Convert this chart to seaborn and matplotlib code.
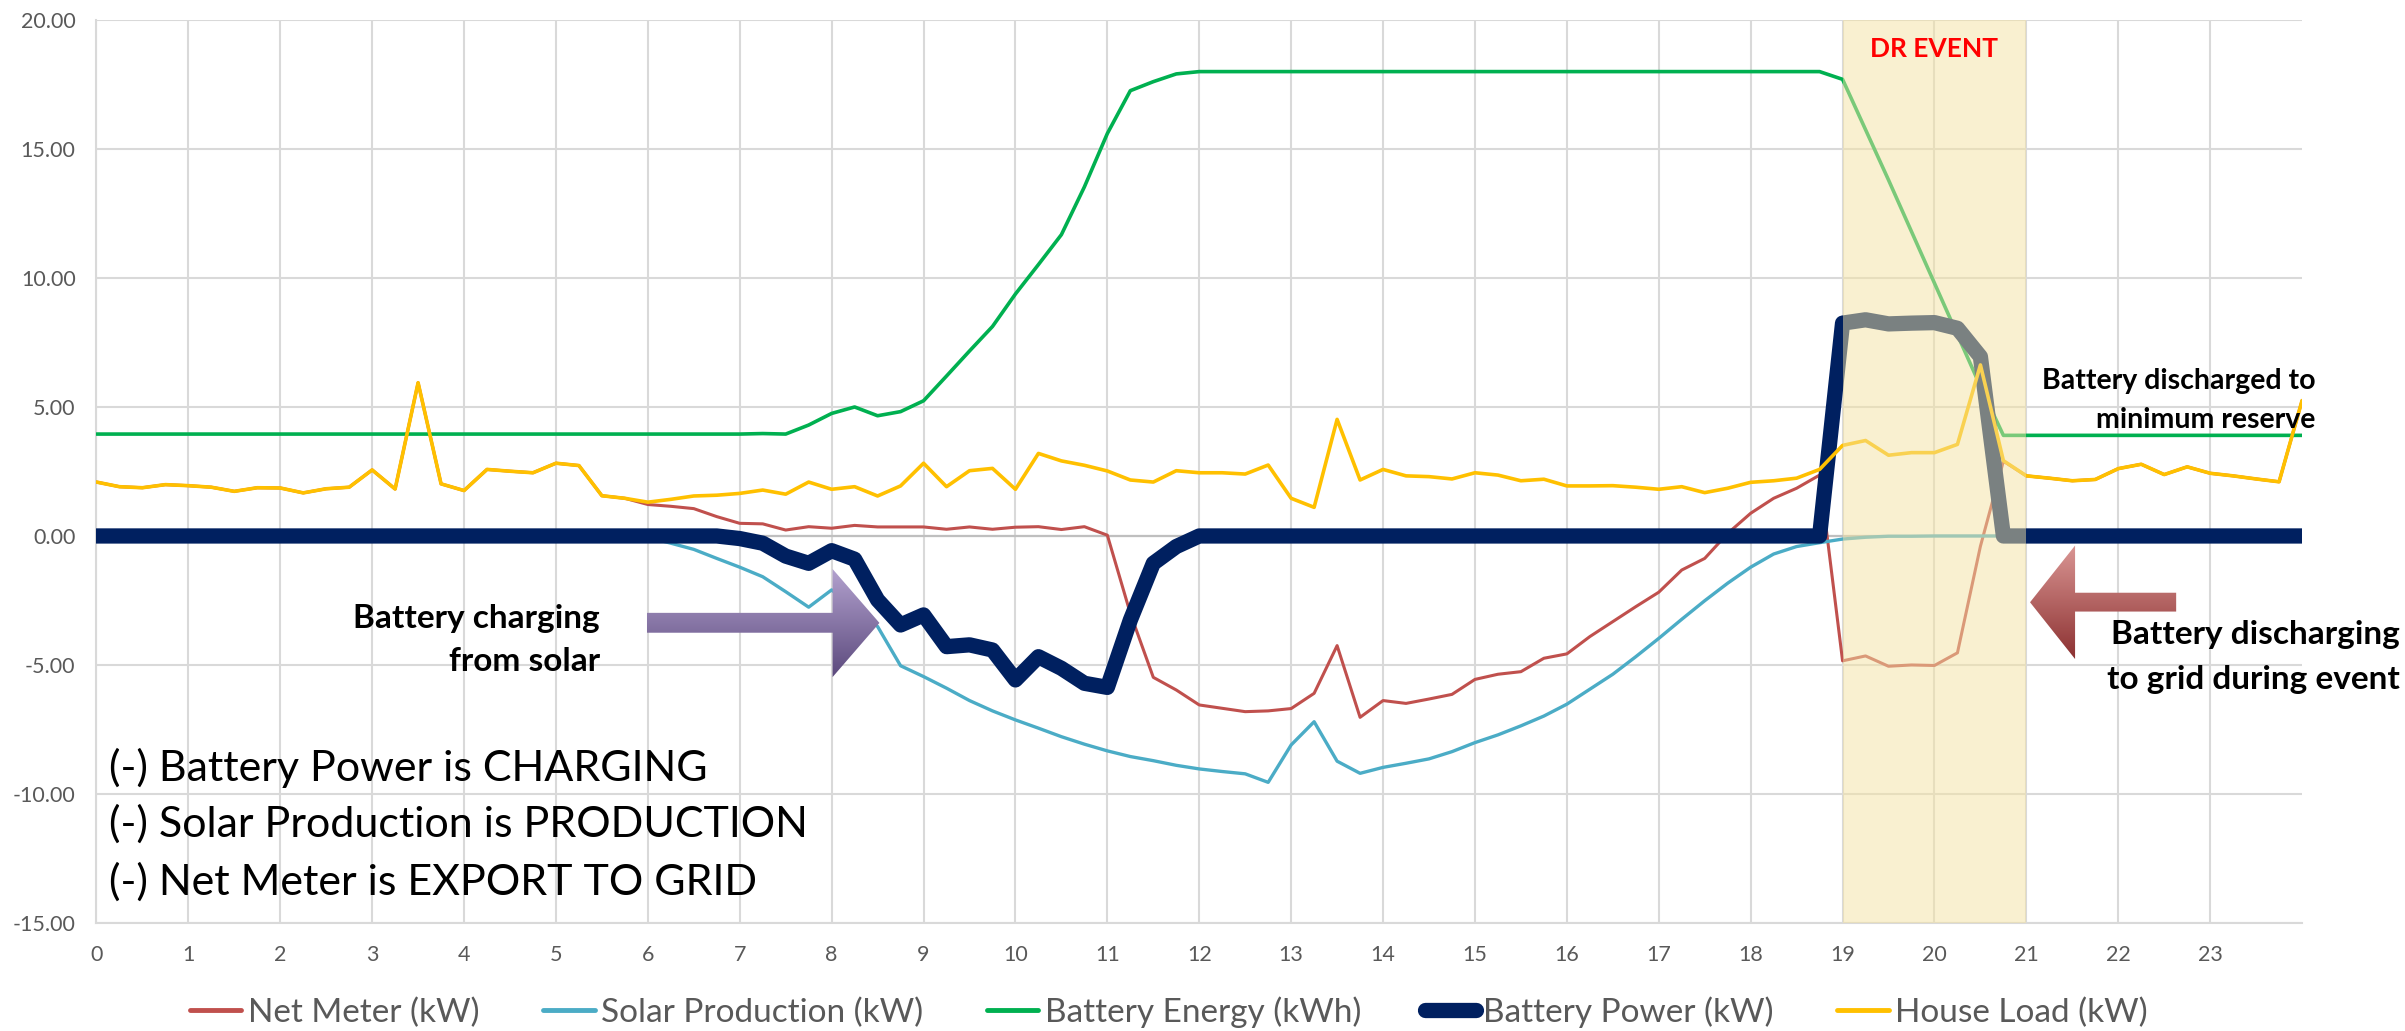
import numpy as np
import matplotlib
matplotlib.use("Agg")
import matplotlib.pyplot as plt
import seaborn as sns
from matplotlib.patches import Polygon
from matplotlib.lines import Line2D
from matplotlib.colors import LinearSegmentedColormap

# ---------------------------------------------------------------------------
# Data: 15-minute readings over one day (0:00 .. 24:00)
# ---------------------------------------------------------------------------
hours = np.arange(0, 24.01, 0.25)

house_load = [
    2.09, 1.91, 1.87, 1.99,   # 0
    1.95, 1.89, 1.73, 1.87,   # 1
    1.86, 1.67, 1.83, 1.89,   # 2
    2.56, 1.82, 5.94, 2.02,   # 3
    1.76, 2.58, 2.51, 2.45,   # 4
    2.82, 2.73, 1.56, 1.46,   # 5
    1.31, 1.42, 1.55, 1.58,   # 6
    1.65, 1.78, 1.62, 2.09,   # 7
    1.81, 1.91, 1.55, 1.94,   # 8
    2.82, 1.91, 2.53, 2.62,   # 9
    1.81, 3.20, 2.91, 2.74,   # 10
    2.52, 2.17, 2.09, 2.53,   # 11
    2.45, 2.45, 2.40, 2.75,   # 12
    1.46, 1.11, 4.52, 2.17,   # 13
    2.58, 2.33, 2.30, 2.21,   # 14
    2.45, 2.36, 2.14, 2.20,   # 15
    1.94, 1.94, 1.95, 1.89,   # 16
    1.81, 1.91, 1.68, 1.85,   # 17
    2.08, 2.14, 2.24, 2.58,   # 18
    3.51, 3.70, 3.13, 3.23,   # 19
    3.23, 3.55, 6.63, 2.92,   # 20
    2.33, 2.24, 2.14, 2.19,   # 21
    2.61, 2.78, 2.38, 2.68,   # 22
    2.43, 2.33, 2.21, 2.10,   # 23
    5.25,
]

net_meter = [
    2.09, 1.91, 1.87, 1.99,
    1.95, 1.89, 1.73, 1.87,
    1.86, 1.67, 1.83, 1.89,
    2.56, 1.82, 5.94, 2.02,
    1.76, 2.58, 2.51, 2.45,
    2.82, 2.73, 1.56, 1.46,
    1.22, 1.15, 1.06, 0.75,
    0.49, 0.47, 0.23, 0.36,
    0.30, 0.41, 0.35, 0.35,
    0.35, 0.26, 0.35, 0.26,
    0.34, 0.36, 0.25, 0.36,
    0.03, -3.00, -5.48, -5.97,
    -6.55, -6.68, -6.81, -6.78,
    -6.69, -6.10, -4.25, -7.03,
    -6.38, -6.49, -6.32, -6.14,
    -5.56, -5.36, -5.26, -4.74,
    -4.57, -3.90, -3.32, -2.74,
    -2.18, -1.32, -0.87, 0.10,
    0.88, 1.46, 1.85, 2.36,
    -4.84, -4.65, -5.05, -5.00,
    -5.02, -4.53, -0.40, 2.90,
    2.33, 2.24, 2.14, 2.19,
    2.61, 2.78, 2.38, 2.68,
    2.43, 2.33, 2.21, 2.10,
    5.25,
]

solar_production = [
    0, 0, 0, 0,
    0, 0, 0, 0,
    0, 0, 0, 0,
    0, 0, 0, 0,
    0, 0, 0, 0,
    0, 0, 0, 0,
    -0.05, -0.28, -0.52, -0.87,
    -1.21, -1.58, -2.16, -2.76,
    -2.09, -2.80, -3.51, -5.03,
    -5.45, -5.90, -6.38, -6.78,
    -7.13, -7.45, -7.78, -8.07,
    -8.33, -8.55, -8.71, -8.89,
    -9.03, -9.13, -9.22, -9.55,
    -8.10, -7.20, -8.73, -9.20,
    -8.97, -8.81, -8.64, -8.36,
    -8.01, -7.71, -7.36, -6.98,
    -6.52, -5.94, -5.36, -4.68,
    -3.97, -3.23, -2.51, -1.83,
    -1.21, -0.70, -0.41, -0.26,
    -0.12, -0.05, -0.01, -0.01,
    0, 0, 0, 0,
    0, 0, 0, 0,
    0, 0, 0, 0,
    0, 0, 0, 0,
    0,
]

battery_energy = [
    3.95, 3.95, 3.95, 3.95,
    3.95, 3.95, 3.95, 3.95,
    3.95, 3.95, 3.95, 3.95,
    3.95, 3.95, 3.95, 3.95,
    3.95, 3.95, 3.95, 3.95,
    3.95, 3.95, 3.95, 3.95,
    3.95, 3.95, 3.95, 3.95,
    3.95, 3.97, 3.95, 4.30,
    4.75, 5.00, 4.66, 4.82,
    5.24, 6.20, 7.17, 8.12,
    9.38, 10.52, 11.68, 13.53,
    15.60, 17.26, 17.61, 17.91,
    18.00, 18.00, 18.00, 18.00,
    18.00, 18.00, 18.00, 18.00,
    18.00, 18.00, 18.00, 18.00,
    18.00, 18.00, 18.00, 18.00,
    18.00, 18.00, 18.00, 18.00,
    18.00, 18.00, 18.00, 18.00,
    18.00, 18.00, 18.00, 18.00,
    17.70, 15.75, 13.80, 11.80,
    9.80, 7.80, 5.80, 3.90,
    3.90, 3.90, 3.90, 3.90,
    3.90, 3.90, 3.90, 3.90,
    3.90, 3.90, 3.90, 3.90,
    3.90,
]

battery_power = [
    0, 0, 0, 0,
    0, 0, 0, 0,
    0, 0, 0, 0,
    0, 0, 0, 0,
    0, 0, 0, 0,
    0, 0, 0, 0,
    0, 0, 0, 0,
    -0.10, -0.28, -0.78, -1.06,
    -0.57, -0.90, -2.48, -3.45,
    -3.06, -4.29, -4.22, -4.42,
    -5.58, -4.68, -5.13, -5.71,
    -5.87, -3.26, -1.06, -0.41,
    0, 0, 0, 0,
    0, 0, 0, 0,
    0, 0, 0, 0,
    0, 0, 0, 0,
    0, 0, 0, 0,
    0, 0, 0, 0,
    0, 0, 0, 0,
    8.25, 8.38, 8.22, 8.25,
    8.27, 8.05, 6.95, 0,
    0, 0, 0, 0,
    0, 0, 0, 0,
    0, 0, 0, 0,
    0,
]

labels = ["Net Meter (kW)", "Solar Production (kW)", "Battery Energy (kWh)",
          "Battery Power (kW)", "House Load (kW)"]
colors = ["#C0504D", "#4BACC6", "#00B050", "#002060", "#FFC000"]

# ---------------------------------------------------------------------------
# Style
# ---------------------------------------------------------------------------
sns.set_theme(style="white")
plt.rcParams['font.family'] = ['Lato', 'DejaVu Sans']
plt.rcParams['axes.unicode_minus'] = False

GRID = "#D9D9D9"
TICK_COLOR = "#595959"

fig = plt.figure(figsize=(24.05, 10.31), dpi=100)
ax = fig.add_axes([0.0401, 0.1048, 0.9171, 0.8758])

# series, in the same stacking order as the original spreadsheet chart
series = [net_meter, solar_production, battery_energy, battery_power, house_load]
widths = [2.2, 2.4, 2.6, 11.0, 2.6]
for i, values in enumerate(series):
    sns.lineplot(x=hours, y=values, ax=ax, color=colors[i], linewidth=widths[i],
                 zorder=3 + i, solid_joinstyle='round', legend=False)

ax.axhline(0, color="#BFBFBF", linewidth=1.6, zorder=1.5)

# DR event window, drawn over the lines so they look faded inside it
ax.axvspan(19, 21, color=(245 / 255, 227 / 255, 163 / 255), alpha=0.5,
           linewidth=0, zorder=10)


def gradient_arrow(ax, xs, ys, top_color, bottom_color):
    poly = Polygon(list(zip(xs, ys)), closed=True, facecolor='none',
                   edgecolor='none', zorder=15)
    ax.add_patch(poly)
    cmap = LinearSegmentedColormap.from_list("grad", [bottom_color, top_color])
    grad = np.linspace(0, 1, 256).reshape(-1, 1)
    im = ax.imshow(grad, extent=[min(xs), max(xs), min(ys), max(ys)],
                   origin='lower', aspect='auto', cmap=cmap, zorder=15)
    im.set_clip_path(poly)


# purple arrow -> battery charging from solar
gradient_arrow(ax,
               [5.99, 8.01, 8.01, 8.52, 8.01, 8.01, 5.99],
               [-2.98, -2.98, -1.28, -3.37, -5.47, -3.75, -3.75],
               "#B3A2CF", "#5C4A7D")
# red arrow <- battery discharging to grid
gradient_arrow(ax,
               [22.63, 21.53, 21.53, 21.04, 21.53, 21.53, 22.63],
               [-2.20, -2.20, -0.37, -2.57, -4.77, -2.93, -2.93],
               "#DA9694", "#8C3131")

# ---------------------------------------------------------------------------
# Axes
# ---------------------------------------------------------------------------
ax.set_xlim(0, 24)
ax.set_ylim(-15, 20)
ax.set_xticks(range(0, 24))
ax.set_yticks(np.arange(-15, 20.1, 5))
ax.yaxis.set_major_formatter(matplotlib.ticker.FormatStrFormatter('%.2f'))
ax.grid(True, color=GRID, linewidth=1.5)
ax.set_axisbelow(True)
for side in ['top', 'right']:
    ax.spines[side].set_visible(False)
for side in ['left', 'bottom']:
    ax.spines[side].set_color(GRID)
    ax.spines[side].set_linewidth(1.5)
ax.tick_params(axis='both', length=0, labelsize=15.5, labelcolor=TICK_COLOR)
ax.tick_params(axis='x', pad=16)
ax.tick_params(axis='y', pad=15)
ax.set_xlabel("")
ax.set_ylabel("")

# ---------------------------------------------------------------------------
# Annotations
# ---------------------------------------------------------------------------
ax.text(20, 18.55, "DR EVENT", color="#FF0000", fontsize=19, fontweight='bold',
        ha='center', va='baseline', zorder=20)

ax.text(24.15, 5.69, "Battery discharged to", fontsize=20.5, fontweight='bold',
        ha='right', va='baseline', color='black', zorder=20, clip_on=False)
ax.text(24.15, 4.17, "minimum reserve", fontsize=20.5, fontweight='bold',
        ha='right', va='baseline', color='black', zorder=20, clip_on=False)

ax.text(5.48, -3.55, "Battery charging", fontsize=24, fontweight='bold',
        ha='right', va='baseline', color='black', zorder=20)
ax.text(5.48, -5.25, "from solar", fontsize=24, fontweight='bold',
        ha='right', va='baseline', color='black', zorder=20)

ax.text(25.06, -4.20, "Battery discharging", fontsize=24, fontweight='bold',
        ha='right', va='baseline', color='black', zorder=20, clip_on=False)
ax.text(25.06, -5.93, "to grid during event", fontsize=24, fontweight='bold',
        ha='right', va='baseline', color='black', zorder=20, clip_on=False)

notes = ["(-) Battery Power is CHARGING",
         "(-) Solar Production is PRODUCTION",
         "(-) Net Meter is EXPORT TO GRID"]
for note, yb in zip(notes, [-9.48, -11.66, -13.92]):
    ax.text(0.14, yb, note, fontsize=31, ha='left', va='baseline',
            color='black', zorder=20)

# ---------------------------------------------------------------------------
# Legend
# ---------------------------------------------------------------------------
handles = []
for c, lbl in zip(colors, labels):
    if lbl.startswith("Battery Power"):
        handles.append(Line2D([], [], color=c, linewidth=11, solid_capstyle='round'))
    else:
        handles.append(Line2D([], [], color=c, linewidth=3.5))
fig.legend(handles, labels, loc='center', bbox_to_anchor=(0.486, 0.0184),
           ncol=5, frameon=False, fontsize=24, handlelength=1.55,
           handletextpad=0.2, columnspacing=1.9, labelcolor=TICK_COLOR)

fig.savefig("out.png", dpi=100)
